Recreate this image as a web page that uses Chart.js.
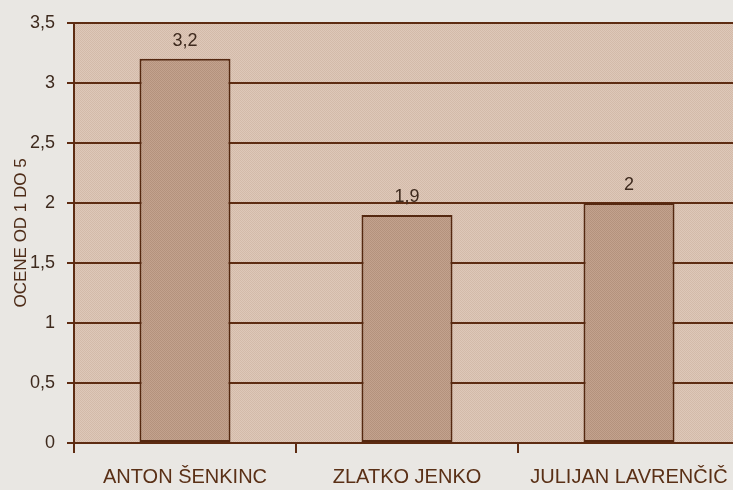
<!DOCTYPE html>
<html>
<head>
<meta charset="utf-8">
<script src="https://cdn.jsdelivr.net/npm/chart.js@4/dist/chart.umd.min.js"></script>
<style>
  html, body { margin: 0; padding: 0; background: #e9e7e3; overflow: hidden; width: 733px; height: 490px; }
  #wrap { width: 740px; height: 490px; }
</style>
</head>
<body>
<div id="wrap"><canvas id="c" width="740" height="490"></canvas></div>
<script>
const categories = ['ANTON ŠENKINC', 'ZLATKO JENKO', 'JULIJAN LAVRENČIČ'];
const values = [3.2, 1.9, 2];
const yTickValues = [0, 0.5, 1, 1.5, 2, 2.5, 3, 3.5];
const yTickLabels = ['0', '0,5', '1', '1,5', '2', '2,5', '3', '3,5'];
const yTitle = 'OCENE OD 1 DO 5';

const DARK = '#5e2c12';
const TEXT = '#3e2a1e';
const FONT = '"Liberation Sans", Arial, sans-serif';

function makePattern(c1, c2) {
  const p = document.createElement('canvas');
  p.width = 2; p.height = 2;
  const g = p.getContext('2d');
  g.fillStyle = c1; g.fillRect(0, 0, 2, 2);
  g.fillStyle = c2; g.fillRect(0, 0, 1, 1); g.fillRect(1, 1, 1, 1);
  return g.createPattern(p, 'repeat');
}
const ctx0 = document.getElementById('c').getContext('2d');
const plotBg = makePattern('#dec8b9', '#d3baa9');
const barFill = makePattern('#c3a28e', '#b4927d');

const plotBgPlugin = {
  id: 'plotBg',
  beforeDraw(chart) {
    const a = chart.chartArea, c = chart.ctx;
    c.save();
    c.fillStyle = plotBg;
    c.fillRect(a.left, a.top, a.right - a.left, a.bottom - a.top);
    c.restore();
  }
};

const valueLabels = {
  id: 'valueLabels',
  afterDatasetsDraw(chart) {
    const c = chart.ctx;
    const meta = chart.getDatasetMeta(0);
    c.save();
    c.font = '18px ' + FONT;
    c.fillStyle = TEXT;
    c.textAlign = 'center';
    c.textBaseline = 'middle';
    meta.data.forEach((bar, i) => {
      c.fillText(String(values[i]).replace('.', ','), bar.x, bar.y - 18);
    });
    c.restore();
  }
};

new Chart(ctx0, {
  type: 'bar',
  data: {
    labels: categories,
    datasets: [{
      data: values,
      backgroundColor: barFill,
      borderColor: '#552810',
      borderWidth: 2,
      borderSkipped: false,
      barPercentage: 0.41,
      categoryPercentage: 1
    }]
  },
  options: {
    responsive: false,
    animation: false,
    events: [],
    layout: { padding: { top: 22, right: 0, bottom: 0, left: 0 } },
    plugins: { legend: { display: false }, tooltip: { enabled: false } },
    scales: {
      x: {
        offset: true,
        grid: { display: true, drawOnChartArea: false, drawTicks: true, tickLength: 10, color: DARK, lineWidth: 2 },
        border: { display: true, color: DARK, width: 2 },
        ticks: {
          color: '#5a3016',
          font: { family: FONT, size: 20 },
          padding: 12,
          maxRotation: 0,
          autoSkip: false
        },
        afterFit(s) { s.height = 47; }
      },
      y: {
        min: 0,
        max: 3.5,
        afterBuildTicks(s) { s.ticks = yTickValues.map(v => ({ value: v })); },
        grid: { color: DARK, lineWidth: 2, tickLength: 7, drawTicks: true },
        border: { display: true, color: DARK, width: 2 },
        ticks: {
          color: TEXT,
          font: { family: FONT, size: 18 },
          padding: 12,
          callback(v, i) { return yTickLabels[i]; }
        },
        title: {
          display: true,
          text: yTitle,
          color: '#4e2c18',
          font: { family: FONT, size: 17 },
          padding: { top: 11, bottom: 0 }
        },
        afterFit(s) { s.width = 74; }
      }
    }
  },
  plugins: [plotBgPlugin, valueLabels]
});
</script>
</body>
</html>
